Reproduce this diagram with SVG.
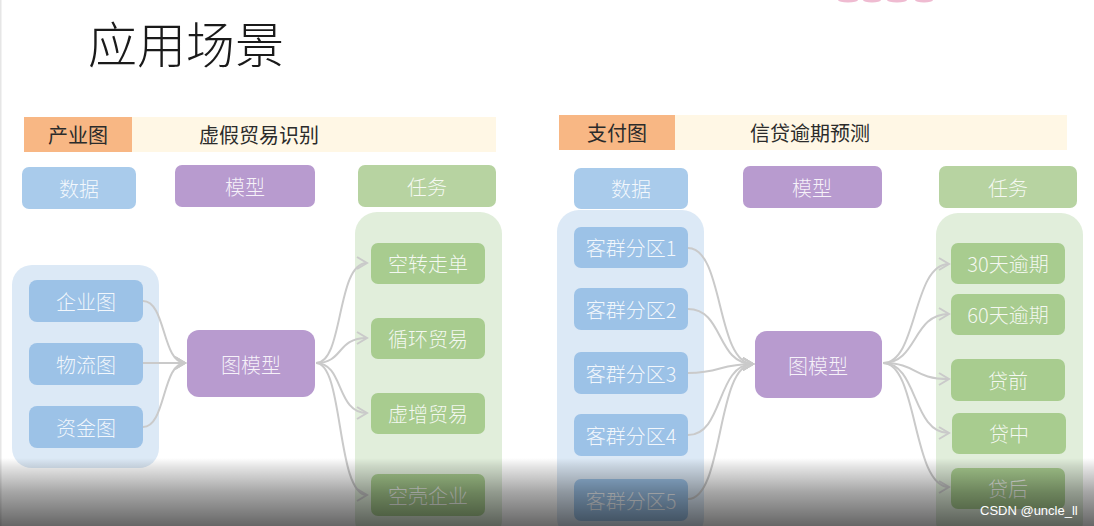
<svg xmlns="http://www.w3.org/2000/svg" width="1094" height="526" viewBox="0 0 1094 526">
<defs>
<style>
text{font-family:"Noto Sans CJK SC","Noto Sans",sans-serif;dominant-baseline:central;font-weight:300}
.title{font-size:49px;fill:#1a1a1a}
.bar{font-size:20px;fill:#2b2b2b;font-weight:400}
.lbl{font-size:20px;fill:#ffffff;fill-opacity:0.88;text-anchor:middle}
.org{fill:#f8b784}
.ylw{fill:#fff7e5}
.hb{fill:#a9cbeb}
.hp{fill:#b89bcf}
.hg{fill:#b7d3a1}
.cb{fill:#dce9f6}
.cg{fill:#e1eedb}
.ib{fill:#9cc2e7}
.ig{fill:#a8cc8f}
.con{fill:none;stroke:#cacaca;stroke-width:2}
</style>
<marker id="arr" markerUnits="userSpaceOnUse" markerWidth="14" markerHeight="16" refX="11" refY="7" orient="auto">
<path d="M1,1 L11,7 L1,13" fill="none" stroke="#cacaca" stroke-width="2"/>
</marker>
<linearGradient id="shade" x1="0" y1="0" x2="0" y2="1">
<stop offset="0" stop-color="#000" stop-opacity="0"/>
<stop offset="0.12" stop-color="#000" stop-opacity="0.1"/>
<stop offset="0.5" stop-color="#000" stop-opacity="0.35"/>
<stop offset="1" stop-color="#000" stop-opacity="0.6"/>
</linearGradient>
</defs>
<rect x="0" y="0" width="1094" height="526" fill="#ffffff"/>
<rect x="0" y="0" width="1.5" height="526" fill="#e6e6e6"/>
<g id="topmark" fill="#e58fb4" opacity="0.6">
<ellipse cx="848" cy="0" rx="10" ry="2.5"/>
<ellipse cx="872" cy="0" rx="9" ry="2.5"/>
<ellipse cx="897" cy="0" rx="10" ry="2.5"/>
<ellipse cx="924" cy="0" rx="9" ry="2.5"/>
</g>
<text class="title" x="88" y="41">应用场景</text>

<!-- Left panel -->
<g id="left-header">
<rect class="org" x="24" y="117" width="108" height="35"/>
<rect class="ylw" x="132" y="117" width="364" height="35"/>
<text class="bar" x="78" y="134" text-anchor="middle">产业图</text>
<text class="bar" x="199" y="134">虚假贸易识别</text>
</g>
<g id="l-h-data"><rect class="hb" x="22" y="167" width="114" height="42" rx="7"/><text class="lbl" x="79" y="188">数据</text></g>
<g id="l-h-model"><rect class="hp" x="175" y="165" width="140" height="42" rx="7"/><text class="lbl" x="245" y="186">模型</text></g>
<g id="l-h-task"><rect class="hg" x="358" y="165" width="138" height="42" rx="7"/><text class="lbl" x="427" y="186">任务</text></g>
<g id="l-data-group"><rect class="cb" x="12" y="265" width="147" height="203" rx="20"/></g>
<g id="l-task-group"><rect class="cg" x="355" y="212" width="147" height="330" rx="22"/></g>
<g id="l-d1"><rect class="ib" x="29" y="280" width="114" height="42" rx="8"/><text class="lbl" x="86" y="301">企业图</text></g>
<g id="l-d2"><rect class="ib" x="29" y="343" width="114" height="42" rx="8"/><text class="lbl" x="86" y="364">物流图</text></g>
<g id="l-d3"><rect class="ib" x="29" y="406" width="114" height="42" rx="8"/><text class="lbl" x="86" y="427">资金图</text></g>
<g id="l-model"><rect class="hp" x="187" y="330" width="128" height="67" rx="12"/><text class="lbl" x="251" y="364">图模型</text></g>
<g id="l-t1"><rect class="ig" x="371" y="243" width="114" height="41" rx="7"/><text class="lbl" x="428" y="263.5">空转走单</text></g>
<g id="l-t2"><rect class="ig" x="371" y="318" width="114" height="41" rx="7"/><text class="lbl" x="428" y="338.5">循环贸易</text></g>
<g id="l-t3"><rect class="ig" x="371" y="393" width="114" height="41" rx="7"/><text class="lbl" x="428" y="413.5">虚增贸易</text></g>
<g id="l-t4"><rect class="ig" x="371" y="474" width="114" height="42" rx="7"/><text class="lbl" x="428" y="495">空壳企业</text></g>

<!-- Right panel -->
<g id="right-header">
<rect class="org" x="559" y="115" width="116" height="35"/>
<rect class="ylw" x="675" y="115" width="392" height="35"/>
<text class="bar" x="617" y="132" text-anchor="middle">支付图</text>
<text class="bar" x="750" y="132">信贷逾期预测</text>
</g>
<g id="r-h-data"><rect class="hb" x="574" y="168" width="114" height="41" rx="7"/><text class="lbl" x="631" y="188.5">数据</text></g>
<g id="r-h-model"><rect class="hp" x="743" y="166" width="139" height="42" rx="7"/><text class="lbl" x="812" y="187">模型</text></g>
<g id="r-h-task"><rect class="hg" x="939" y="166" width="138" height="42" rx="7"/><text class="lbl" x="1008" y="187">任务</text></g>
<g id="r-data-group"><rect class="cb" x="557" y="210" width="147" height="330" rx="22"/></g>
<g id="r-task-group"><rect class="cg" x="936" y="213" width="147" height="330" rx="22"/></g>
<g id="r-d1"><rect class="ib" x="574" y="227" width="114" height="41" rx="7"/><text class="lbl" x="631" y="247.5">客群分区1</text></g>
<g id="r-d2"><rect class="ib" x="574" y="288" width="114" height="42" rx="7"/><text class="lbl" x="631" y="309">客群分区2</text></g>
<g id="r-d3"><rect class="ib" x="574" y="352" width="114" height="42" rx="7"/><text class="lbl" x="631" y="373">客群分区3</text></g>
<g id="r-d4"><rect class="ib" x="574" y="414" width="114" height="42" rx="7"/><text class="lbl" x="631" y="435">客群分区4</text></g>
<g id="r-d5"><rect class="ib" x="574" y="479" width="114" height="42" rx="7"/><text class="lbl" x="631" y="500">客群分区5</text></g>
<g id="r-model"><rect class="hp" x="755" y="331" width="127" height="67" rx="12"/><text class="lbl" x="818" y="365">图模型</text></g>
<g id="r-t1"><rect class="ig" x="951" y="243" width="114" height="41" rx="7"/><text class="lbl" x="1008" y="263.5">30天逾期</text></g>
<g id="r-t2"><rect class="ig" x="951" y="294" width="114" height="41" rx="7"/><text class="lbl" x="1008" y="314.5">60天逾期</text></g>
<g id="r-t3"><rect class="ig" x="951" y="359" width="114" height="42" rx="7"/><text class="lbl" x="1008" y="380">贷前</text></g>
<g id="r-t4"><rect class="ig" x="952" y="413" width="114" height="41" rx="7"/><text class="lbl" x="1009" y="433.5">贷中</text></g>
<g id="r-t5"><rect class="ig" x="951" y="468" width="114" height="41" rx="7"/><text class="lbl" x="1008" y="488.5">贷后</text></g>

<g id="connectors">
<path class="con" marker-end="url(#arr)" d="M143,301 C166,301 162,363 185,363"/>
<path class="con" marker-end="url(#arr)" d="M143,363 L185,363"/>
<path class="con" marker-end="url(#arr)" d="M143,427 C166,427 162,363 185,363"/>
<path class="con" marker-end="url(#arr)" d="M316,363 C344,363 336,263 367,263"/>
<path class="con" marker-end="url(#arr)" d="M316,363 C344,363 336,338 367,338"/>
<path class="con" marker-end="url(#arr)" d="M316,363 C344,363 336,413 367,413"/>
<path class="con" marker-end="url(#arr)" d="M316,363 C344,363 336,495 367,495"/>
<path class="con" marker-end="url(#arr)" d="M688,248 C724,248 716,364 753,364"/>
<path class="con" marker-end="url(#arr)" d="M688,309 C724,309 716,364 753,364"/>
<path class="con" marker-end="url(#arr)" d="M688,373 C722,373 718,364 753,364"/>
<path class="con" marker-end="url(#arr)" d="M688,435 C724,435 716,364 753,364"/>
<path class="con" marker-end="url(#arr)" d="M688,499 C724,499 716,364 753,364"/>
<path class="con" marker-end="url(#arr)" d="M883,363 C918,363 912,264 949,264"/>
<path class="con" marker-end="url(#arr)" d="M883,363 C918,363 912,314 949,314"/>
<path class="con" marker-end="url(#arr)" d="M883,363 C918,363 912,379 949,379"/>
<path class="con" marker-end="url(#arr)" d="M883,363 C918,363 912,433 949,433"/>
<path class="con" marker-end="url(#arr)" d="M883,363 C918,363 912,487 949,487"/>
</g>

<rect x="0" y="458" width="1094" height="68" fill="url(#shade)"/>
<text x="980" y="510" style="font-family:'Liberation Sans',Arial,sans-serif;font-size:13px;fill:#ffffff;font-weight:400">CSDN @uncle_ll</text>
</svg>
